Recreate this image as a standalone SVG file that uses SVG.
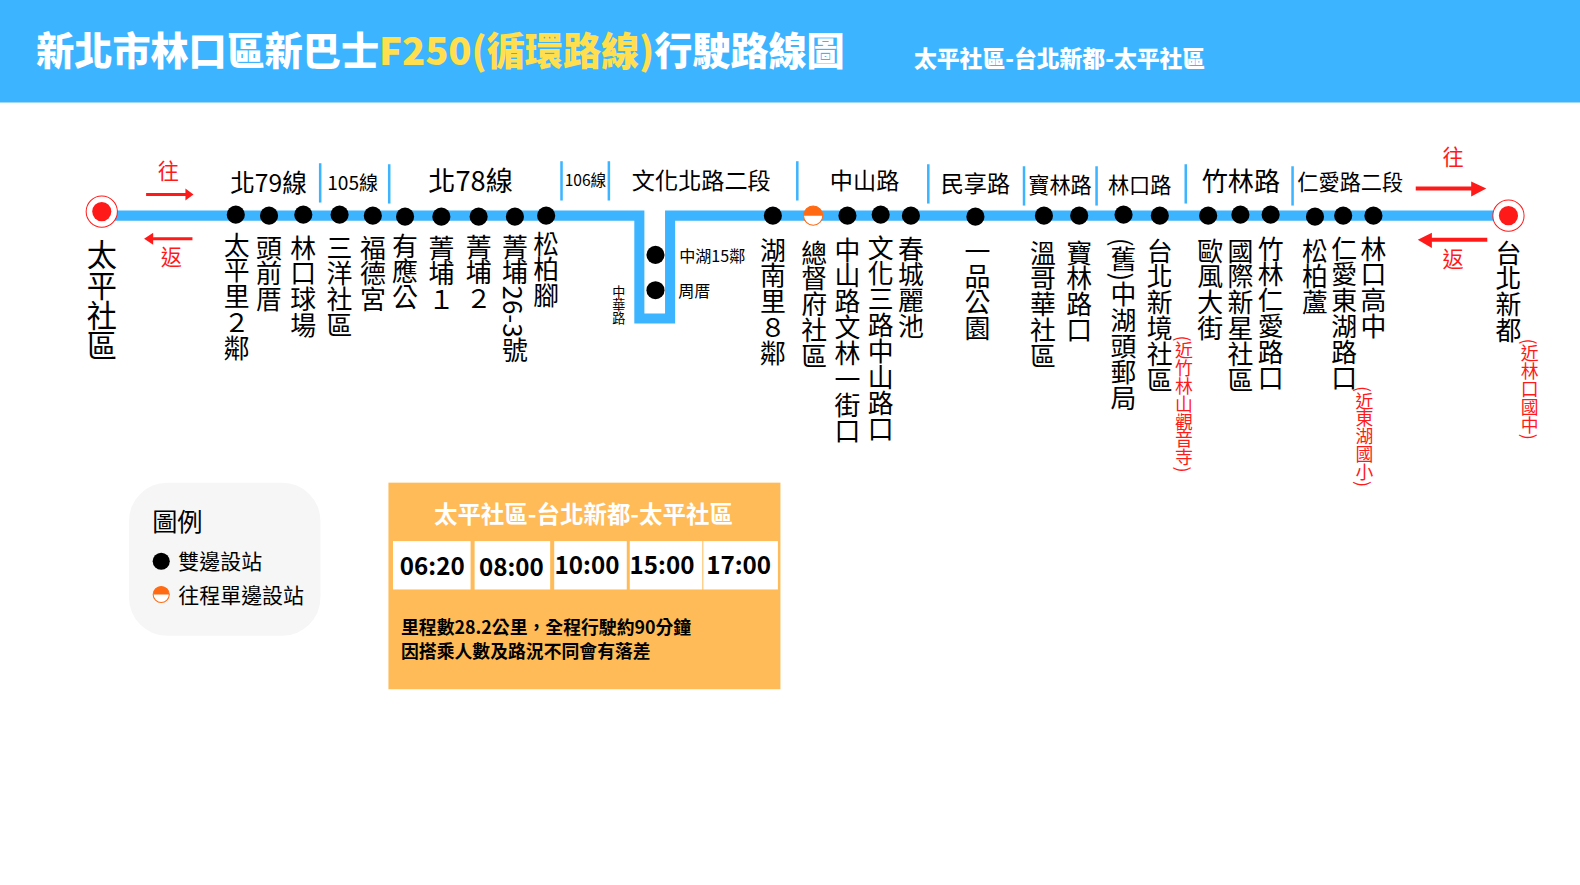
<svg xmlns="http://www.w3.org/2000/svg" width="1580" height="885" viewBox="0 0 1580 885">
<style>
text{font-family:"Noto Sans CJK TC","Noto Sans CJK SC",sans-serif;fill:#000}
.v{writing-mode:vertical-rl;font-size:25.700px}
.vr{writing-mode:vertical-rl;font-size:17.700px;fill:#ff1a1a}
.r{fill:#ff1a1a;font-size:21px;text-anchor:middle}
.h{text-anchor:middle;font-size:24.500px}
.b{fill:#3cb4ff}
.t{font-size:24px;font-weight:700;text-anchor:middle}
.n{font-size:17.700px;font-weight:700}
.hd{font-weight:900;fill:#fff}
.st{font-size:23.300px;font-weight:700;fill:#fff;text-anchor:middle}
.ar{stroke:#ff1a1a;fill:none}
.ah{fill:#ff1a1a}
</style>
<defs>
<circle id="d" r="9"/>
<g id="term"><circle r="15.500" fill="#fff" stroke="#ff1a1a" stroke-width="1"/><circle r="9.500" fill="#ff1a1a"/></g>
</defs>
<rect width="1580" height="102.500" fill="#3cb4ff"/>
<g id="diagram" transform="scale(1.00765)">
<g id="title">
<text x="36" y="65" class="hd" font-size="37.800">新北市林口區新巴士<tspan fill="#ffdf4d">F250(循環路線)</tspan>行駛路線圖</text>
<text x="907" y="66" class="hd" font-size="22.650">太平社區-台北新都-太平社區</text>
</g>
<g id="connectors">
<path d="M110 214H634.500V316H665V214H1490" fill="none" stroke="#3cb4ff" stroke-width="10"/>
<g class="dirs">
<path class="ar" stroke-width="3" d="M145 193H186"/><path class="ah" d="M184 187L192 193L184 199Z"/>
<path class="ar" stroke-width="3" d="M191 237H150"/><path class="ah" d="M152 231L143 237L152 243Z"/>
<path class="ar" stroke-width="4" d="M1405 187H1468"/><path class="ah" d="M1460 180L1475 187L1460 195Z"/>
<path class="ar" stroke-width="4" d="M1476 238H1418"/><path class="ah" d="M1421 231L1407 238L1421 246Z"/>
</g>
<g class="b" id="dividers">
<rect x="316.500" y="162" width="2.500" height="39"/><rect x="385" y="163" width="2.500" height="39"/>
<rect x="556" y="160" width="2.500" height="39"/><rect x="603" y="160" width="2.500" height="39"/>
<rect x="790" y="160" width="2.500" height="39"/>
<rect x="920" y="163" width="2.500" height="39"/><rect x="1015" y="165" width="2.500" height="39"/>
<rect x="1087" y="165" width="2.500" height="39"/><rect x="1175.500" y="163" width="2.500" height="39"/>
<rect x="1281.500" y="165" width="2.500" height="39"/>
</g>
</g>
<g id="road-labels">
<text class="h" x="266.500" y="191">北79線</text>
<text class="h" x="350" y="189" style="font-size:19px">105線</text>
<text class="h" x="467" y="190" style="font-size:27px">北78線</text>
<text class="h" x="581" y="185" style="font-size:15.500px">106線</text>
<text class="h" x="696" y="188" style="font-size:23px">文化北路二段</text>
<text class="h" x="858" y="188" style="font-size:23px">中山路</text>
<text class="h" x="968" y="191" style="font-size:23px">民享路</text>
<text class="h" x="1052" y="192" style="font-size:21px">寶林路</text>
<text class="h" x="1131" y="192" style="font-size:21px">林口路</text>
<text class="h" x="1231.500" y="190" style="font-size:26px">竹林路</text>
<text class="h" x="1340" y="189" style="font-size:21px">仁愛路二段</text>
<text class="r" x="167" y="178">往</text><text class="r" x="170" y="263">返</text>
<text class="r" x="1442" y="164">往</text><text class="r" x="1442" y="265">返</text>
</g>
<g id="stops">
<g id="s-taiping"><use href="#term" x="101" y="210"/><text class="v" x="101" y="238" style="font-size:30px">太平社區</text></g>
<g id="s1"><use href="#d" x="234" y="213"/><text class="v" x="235" y="230">太平里&#xFF12;鄰</text></g>
<g id="s2"><use href="#d" x="267" y="214"/><text class="v" x="267" y="233">頭前厝</text></g>
<g id="s3"><use href="#d" x="301" y="213"/><text class="v" x="301" y="233">林口球場</text></g>
<g id="s4"><use href="#d" x="337" y="213"/><text class="v" x="337" y="233">三洋社區</text></g>
<g id="s5"><use href="#d" x="370" y="214"/><text class="v" x="370" y="233">福德宮</text></g>
<g id="s6"><use href="#d" x="402" y="215"/><text class="v" x="402" y="231">有應公</text></g>
<g id="s7"><use href="#d" x="438" y="215"/><text class="v" x="438" y="233">菁埔&#xFF11;</text></g>
<g id="s8"><use href="#d" x="475" y="215"/><text class="v" x="475" y="232">菁埔&#xFF12;</text></g>
<g id="s9"><use href="#d" x="511" y="215"/><text class="v" x="511" y="232">菁埔26-3號</text></g>
<g id="s10"><use href="#d" x="542" y="214"/><text class="v" x="542" y="229">松柏腳</text></g>
<g id="s11"><use href="#d" x="650.500" y="253"/><text x="674" y="260" font-size="16">中湖15鄰</text></g>
<g id="s12"><use href="#d" x="650.500" y="288"/><text x="673" y="295" font-size="16">周厝</text></g>
<g id="s-zh"><text class="v" x="614" y="283" style="font-size:13px">中華路</text></g>
<g id="s13"><use href="#d" x="767" y="214"/><text class="v" x="767" y="235">湖南里&#xFF18;鄰</text></g>
<g id="s14"><circle cx="807" cy="214" r="9.500" fill="#fff" stroke="#ff6a13" stroke-width="1"/><path d="M797.500 214A9.500 9.500 0 0 1 816.500 214Z" fill="#ff6a13"/><text class="v" x="808" y="238">總督府社區</text></g>
<g id="s15"><use href="#d" x="841" y="214"/><text class="v" x="841" y="235">中山路文林一街口</text></g>
<g id="s16"><use href="#d" x="874" y="213"/><text class="v" x="874" y="233">文化三路中山路口</text></g>
<g id="s17"><use href="#d" x="904" y="214"/><text class="v" x="904" y="234">春城麗池</text></g>
<g id="s18"><use href="#d" x="968" y="215"/><text class="v" x="970" y="236">一品公園</text></g>
<g id="s19"><use href="#d" x="1036" y="214"/><text class="v" x="1035" y="238">溫哥華社區</text></g>
<g id="s20"><use href="#d" x="1071" y="214"/><text class="v" x="1071" y="238">寶林路口</text></g>
<g id="s21"><use href="#d" x="1115" y="213"/><text class="v" x="1115" y="236">(舊)中湖頭郵局</text></g>
<g id="s22"><use href="#d" x="1151" y="214"/><text class="v" x="1151" y="236">台北新境社區</text><text class="vr" x="1175" y="333">(近竹林山觀音寺)</text></g>
<g id="s23"><use href="#d" x="1199" y="214"/><text class="v" x="1201" y="236">歐風大街</text></g>
<g id="s24"><use href="#d" x="1231" y="213"/><text class="v" x="1231" y="236">國際新星社區</text></g>
<g id="s25"><use href="#d" x="1261" y="213"/><text class="v" x="1261" y="234">竹林仁愛路口</text></g>
<g id="s26"><use href="#d" x="1305" y="215"/><text class="v" x="1305" y="236">松柏蘆</text></g>
<g id="s27"><use href="#d" x="1333" y="214"/><text class="v" x="1334" y="234">仁愛東湖路口</text><text class="vr" x="1354" y="383">(近東湖國小)</text></g>
<g id="s28"><use href="#d" x="1363" y="214"/><text class="v" x="1363" y="234">林口高中</text></g>
<g id="s-taipei"><use href="#term" x="1497" y="214"/><text class="v" x="1497" y="238">台北新都</text><text class="vr" x="1518" y="336">(近林口國中)</text></g>
</g>
<g id="legend">
<rect x="128" y="479" width="190" height="152" rx="38" fill="#f6f6f6"/>
<text x="151" y="527" font-size="25">圖例</text>
<circle cx="160" cy="557" r="8.500"/>
<text x="177" y="565" font-size="20.800">雙邊設站</text>
<circle cx="160" cy="590" r="8" fill="#fff" stroke="#ff6a13" stroke-width="1"/><path d="M152 590A8 8 0 0 1 168 590Z" fill="#ff6a13"/>
<text x="177" y="598" font-size="20.800">往程單邊設站</text>
</g>
<g id="schedule">
<rect x="385.500" y="479" width="389" height="205" fill="#ffbb57"/>
<text class="st" x="579" y="519">太平社區-台北新都-太平社區</text>
<rect x="390" y="537" width="77" height="48" fill="#fff"/><text class="t" x="429" y="571">06:20</text>
<rect x="471" y="537" width="75" height="48" fill="#fff"/><text class="t" x="507.500" y="572">08:00</text>
<rect x="550" y="537" width="72" height="48" fill="#fff"/><text class="t" x="582.500" y="570">10:00</text>
<rect x="625" y="537" width="72" height="48" fill="#fff"/><text class="t" x="657" y="570">15:00</text>
<rect x="698" y="537" width="74" height="48" fill="#fff"/><text class="t" x="733" y="570">17:00</text>
<text class="n" x="398" y="629">里程數28.2公里&#xFF0C;全程行駛約90分鐘</text>
<text class="n" x="398" y="653">因搭乘人數及路況不同會有落差</text>
</g>
</g>
</svg>
